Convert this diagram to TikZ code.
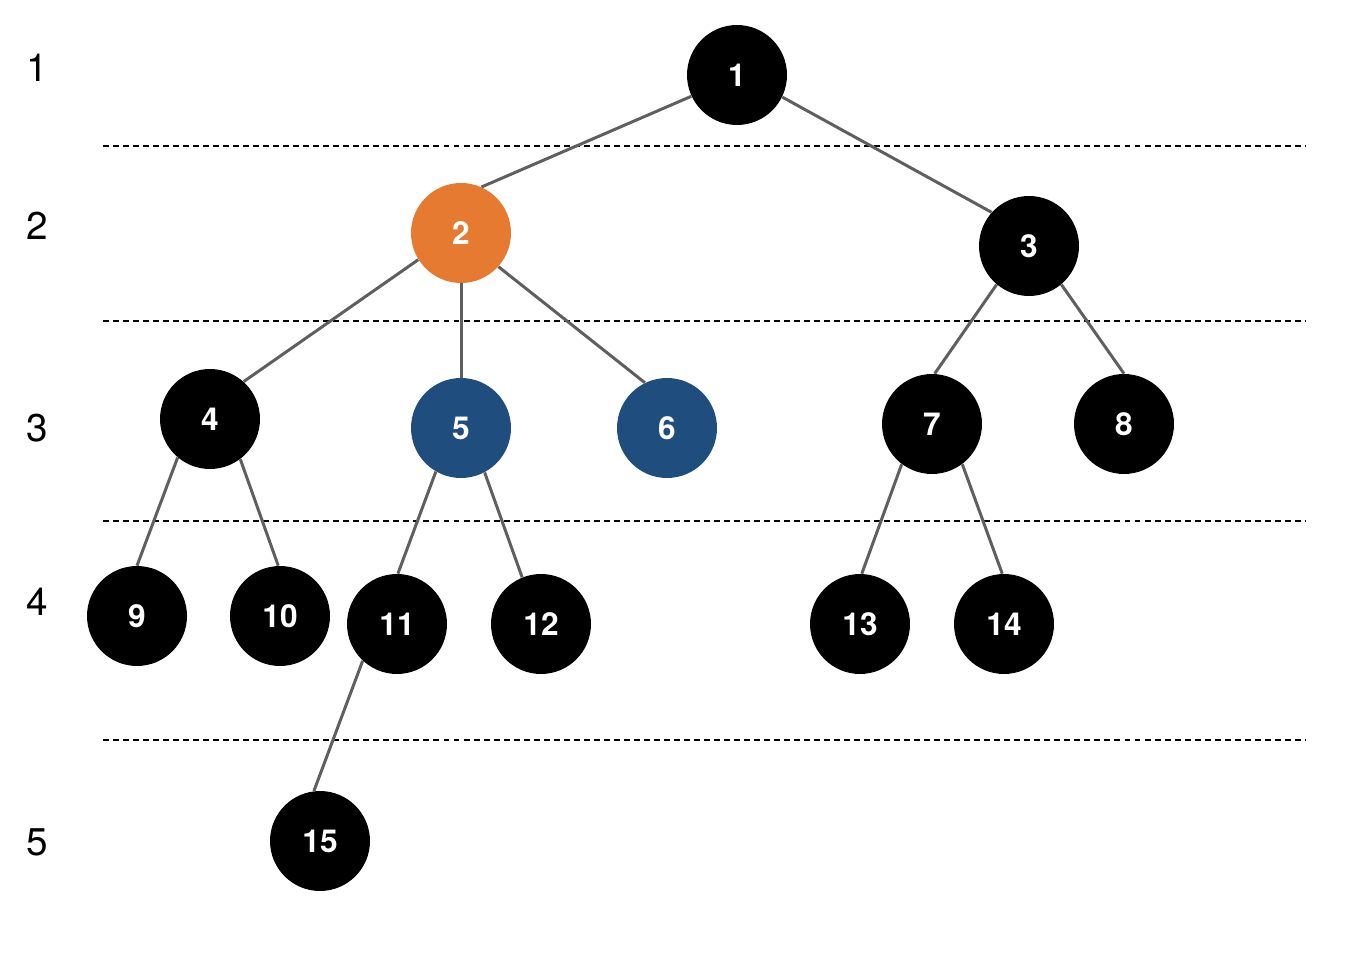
\documentclass[tikz,border=0pt]{standalone}
\usepackage{fontspec}
\setmainfont{TeX Gyre Heros}
\usetikzlibrary{arrows}
\definecolor{nodeorange}{RGB}{229,122,48}
\definecolor{nodeblue}{RGB}{31,78,126}
\definecolor{edgegray}{RGB}{95,95,95}
\begin{document}
\begin{tikzpicture}[x = 0.02cm, y = -0.02cm]
\tikzstyle{VertexStyle}=[shape = circle,
                         minimum size = 2cm,
                         inner sep = 0pt,
                         fill = black,
                         text = white,
                         font = \fontsize{18}{20}\selectfont\bfseries]
\tikzstyle{EdgeStyle}=[draw = edgegray, line width = 1.7pt]
\tikzstyle{LevelLine}=[line width = 1pt, dash pattern = on 3.4pt off 2.3pt]
\tikzstyle{LevelStyle}=[font = \fontsize{22}{24}\selectfont]
\useasboundingbox (0,0) rectangle (1368,962);
% levels
\node[LevelStyle] (l1) at (37, 68) {1};
\node[LevelStyle] (l2) at (37, 226) {2};
\node[LevelStyle] (l3) at (37, 428) {3};
\node[LevelStyle] (l4) at (37, 602) {4};
\node[LevelStyle] (l5) at (37, 842) {5};
\coordinate (a1) at (103, 146); \coordinate (b1) at (1305, 146);
\coordinate (a2) at (103, 321); \coordinate (b2) at (1305, 321);
\coordinate (a3) at (103, 521); \coordinate (b3) at (1305, 521);
\coordinate (a4) at (103, 740); \coordinate (b4) at (1305, 740);
\draw[LevelLine] (a1) -- (b1);
\draw[LevelLine] (a2) -- (b2);
\draw[LevelLine] (a3) -- (b3);
\draw[LevelLine] (a4) -- (b4);
% vertices
\node[VertexStyle] (v1) at (737, 75) {1};
\node[VertexStyle, fill = nodeorange] (v2) at (461, 233) {2};
\node[VertexStyle] (v3) at (1029, 246) {3};
\node[VertexStyle] (v4) at (210, 419) {4};
\node[VertexStyle, fill = nodeblue] (v5) at (461, 428) {5};
\node[VertexStyle, fill = nodeblue] (v6) at (667, 428) {6};
\node[VertexStyle] (v7) at (932, 424) {7};
\node[VertexStyle] (v8) at (1124, 424) {8};
\node[VertexStyle] (v9) at (137, 616) {9};
\node[VertexStyle] (v10) at (280, 616) {10};
\node[VertexStyle] (v11) at (397, 624) {11};
\node[VertexStyle] (v12) at (541, 624) {12};
\node[VertexStyle] (v13) at (860, 624) {13};
\node[VertexStyle] (v14) at (1004, 624) {14};
\node[VertexStyle] (v15) at (320, 841) {15};
% edges
\draw[EdgeStyle] (v1.205) -- (v2.66);
\draw[EdgeStyle] (v1.334) -- (v3.138);
\draw[EdgeStyle] (v2.212) -- (v4.48);
\draw[EdgeStyle] (v2.270) -- (v5.90);
\draw[EdgeStyle] (v2.318) -- (v6.116);
\draw[EdgeStyle] (v3.230) -- (v7.87);
\draw[EdgeStyle] (v3.310) -- (v8.90);
\draw[EdgeStyle] (v4.230) -- (v9.90);
\draw[EdgeStyle] (v4.307) -- (v10.92);
\draw[EdgeStyle] (v5.240) -- (v11.89);
\draw[EdgeStyle] (v5.298) -- (v12.112);
\draw[EdgeStyle] (v7.233) -- (v13.88);
\draw[EdgeStyle] (v7.307) -- (v14.92);
\draw[EdgeStyle] (v11.227) -- (v15.97);
\end{tikzpicture}
\end{document}
